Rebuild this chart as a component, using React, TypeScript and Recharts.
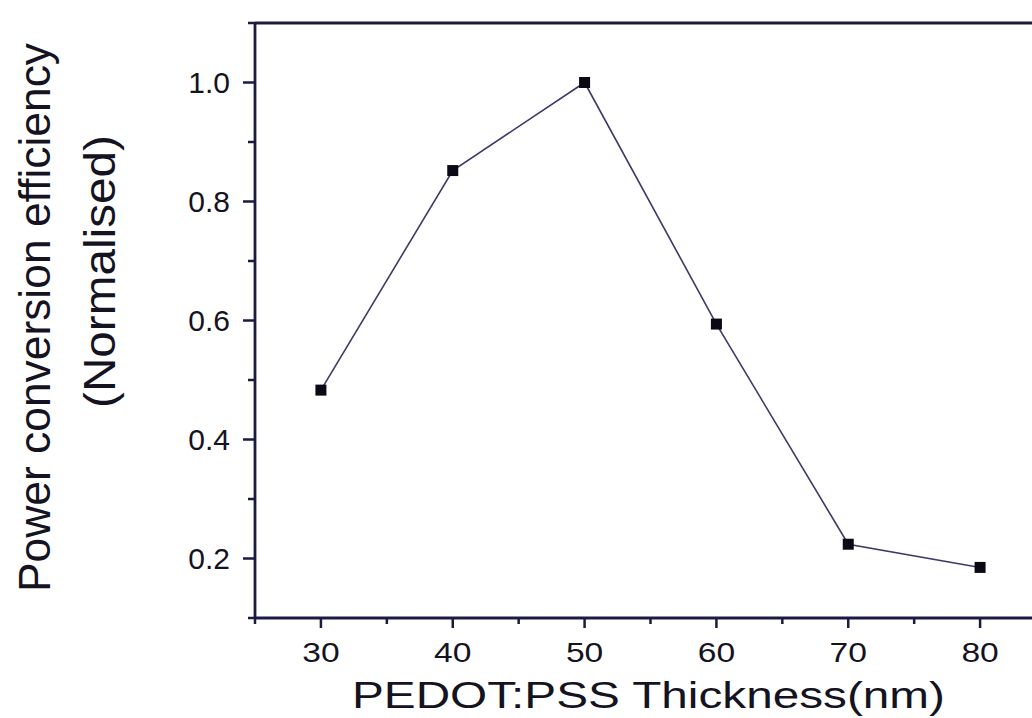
import React from 'react';
import { LineChart, Line, XAxis, YAxis, ReferenceLine } from 'recharts';

// PEDOT:PSS thickness (nm) vs normalised PCE
const thickness = [30, 40, 50, 60, 70, 80];
const pce = [0.483, 0.852, 1.0, 0.594, 0.224, 0.185];

const xTicks = [25, 30, 35, 40, 45, 50, 55, 60, 65, 70, 75, 80, 85];
const yTicks = [0.1, 0.2, 0.3, 0.4, 0.5, 0.6, 0.7, 0.8, 0.9, 1.0, 1.1];
const yMajor = [0.2, 0.4, 0.6, 0.8, 1.0];

const xTitle = 'PEDOT:PSS Thickness(nm)';
const yTitle1 = 'Power conversion efficiency';
const yTitle2 = '(Normalised)';

const data = thickness.map((t, i) => ({ thickness: t, pce: pce[i] }));

const FONT = '"Liberation Sans", Arial, sans-serif';
const AXIS = '#1d1a42';
const INK = '#14131f';

const XTick = ({ x, y, payload }: any) => {
  const v = payload.value;
  const major = v % 10 === 0 && v > 25 && v < 85;
  return (
    <g>
      <line x1={x} x2={x} y1={y} y2={y + (major ? 10 : 6)} stroke={AXIS} strokeWidth={2.5} />
      {major && (
        <text
          transform={`translate(${x},${y + 44}) scale(1.2,1)`}
          textAnchor="middle"
          fontSize={28}
          fontFamily={FONT}
          fill={INK}
        >
          {v}
        </text>
      )}
    </g>
  );
};

const YTick = ({ x, y, payload }: any) => {
  const v = payload.value;
  const major = yMajor.some((m) => Math.abs(m - v) < 1e-6);
  return (
    <g>
      <line x1={x - (major ? 12 : 7)} x2={x} y1={y} y2={y} stroke={AXIS} strokeWidth={2.5} />
      {major && (
        <text x={x - 25} y={y + 10.5} textAnchor="end" fontSize={30} fontFamily={FONT} fill={INK}>
          {v.toFixed(1)}
        </text>
      )}
    </g>
  );
};

const YTitle = () => (
  <g fontFamily={FONT} fill={INK} fontSize={44}>
    <text
      transform="translate(50,317.5) rotate(-90)"
      textAnchor="middle"
      textLength={549}
      lengthAdjust="spacingAndGlyphs"
    >
      {yTitle1}
    </text>
    <text
      transform="translate(115,271.5) rotate(-90)"
      textAnchor="middle"
      textLength={273}
      lengthAdjust="spacingAndGlyphs"
    >
      {yTitle2}
    </text>
  </g>
);

const XTitle = () => (
  <text
    x={648.5}
    y={708}
    textAnchor="middle"
    fontSize={37}
    fontFamily={FONT}
    fill={INK}
    textLength={593}
    lengthAdjust="spacingAndGlyphs"
  >
    {xTitle}
  </text>
);

const Square = (props: any) => {
  const { cx, cy, index } = props;
  return <rect key={`sq-${index}`} x={cx - 5.5} y={cy - 5.5} width={11} height={11} fill="#0b0a14" />;
};

export default function App() {
  return (
    <div
      style={{
        position: 'absolute',
        left: 0,
        top: 0,
        width: 1032,
        height: 718,
        overflow: 'hidden',
        background: '#fff',
      }}
    >
      <LineChart
        width={1100}
        height={718}
        data={data}
        margin={{ top: 23, right: 54, left: 175, bottom: 0 }}
      >
        <XAxis
          type="number"
          dataKey="thickness"
          domain={[25, 85]}
          ticks={xTicks}
          interval={0}
          height={100}
          tickSize={0}
          tickMargin={0}
          tickLine={false}
          tick={<XTick />}
          axisLine={{ stroke: AXIS, strokeWidth: 2.8 }}
          label={{ content: <XTitle /> }}
        />
        <YAxis
          type="number"
          domain={[0.1, 1.1]}
          ticks={yTicks}
          interval={0}
          width={80}
          tickSize={0}
          tickMargin={0}
          tickLine={false}
          tick={<YTick />}
          axisLine={{ stroke: AXIS, strokeWidth: 2.8 }}
          label={{ content: <YTitle /> }}
        />
        <ReferenceLine y={1.1} stroke={AXIS} strokeWidth={2.8} ifOverflow="visible" />
        <Line
          type="linear"
          dataKey="pce"
          stroke="#3b3a68"
          strokeWidth={1.6}
          dot={Square}
          activeDot={false}
          isAnimationActive={false}
        />
      </LineChart>
    </div>
  );
}
